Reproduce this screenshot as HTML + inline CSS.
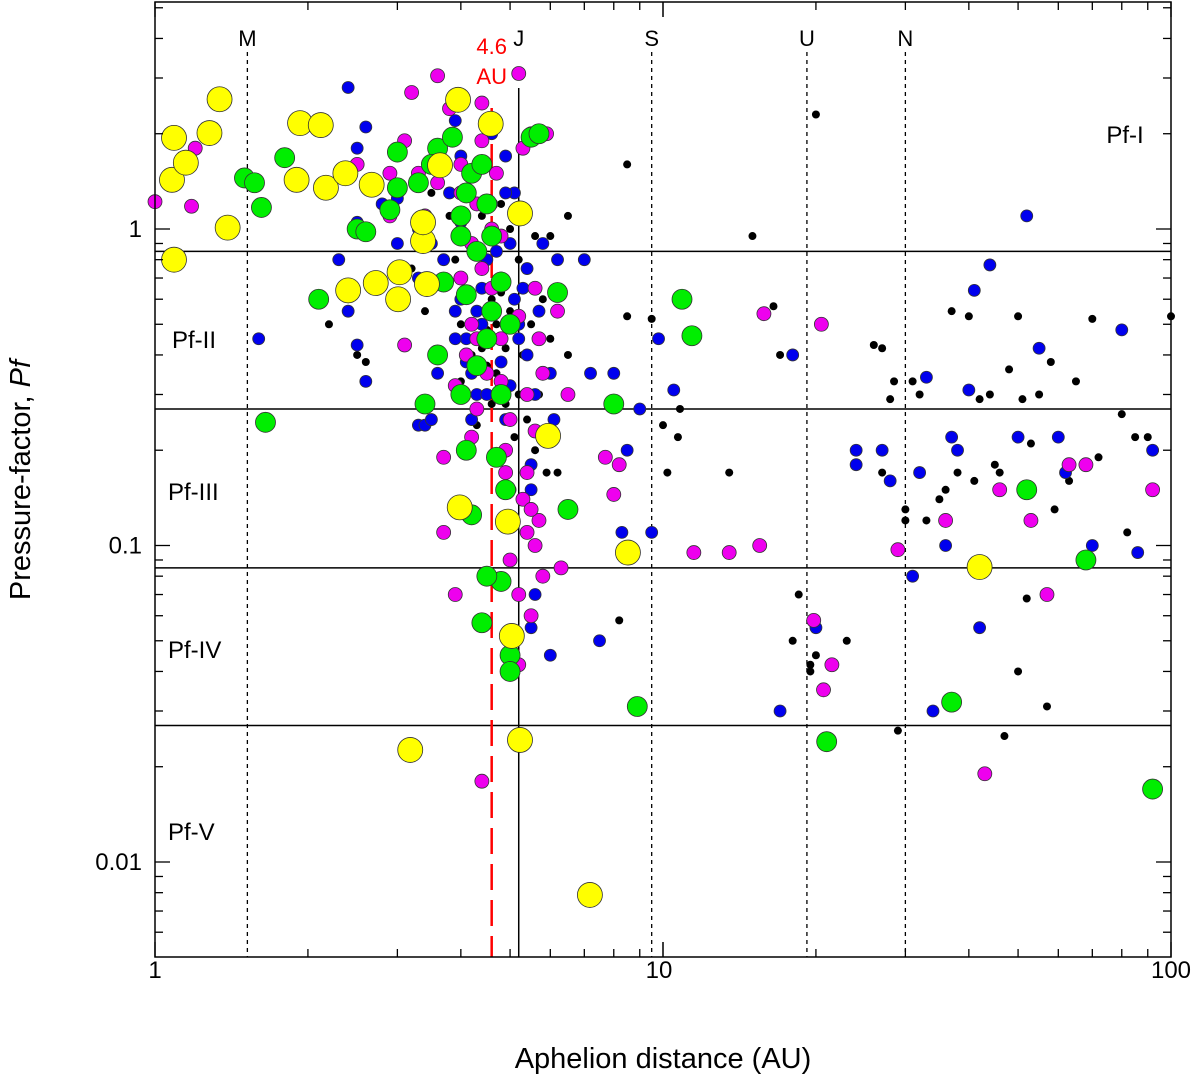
<!DOCTYPE html>
<html><head><meta charset="utf-8"><style>
html,body{margin:0;padding:0;background:#fff}
svg{display:block;font-family:"Liberation Sans",Arial,sans-serif}
</style></head><body>
<svg id="chart" width="1200" height="1087" viewBox="0 0 1200 1087">
<g id="grid"></g><g id="pts"></g><g id="axes"></g>
</svg>
<script>
const yellowA=[1.09,1.08,1.28,1.34,1.15,1.39,1.09,1.93,2.12,1.90,2.17,2.37,2.67,3.03,2.40,2.72,3.43,3.37,3.37,3.95,4.58,5.23,3.01,3.98,4.95,5.94,8.53,42,5.23,3.18,7.18,5.04,3.64];
const yellowP=[1.94,1.43,2.01,2.57,1.62,1.01,0.80,2.16,2.13,1.43,1.35,1.50,1.38,0.73,0.64,0.675,0.67,0.916,1.05,2.56,2.15,1.12,0.60,0.132,0.119,0.222,0.095,0.0855,0.0243,0.0226,0.00787,0.0518,1.59];
const greenA=[1.5,1.57,1.62,1.8,2.1,1.65,2.5,2.6,2.9,3.0,3.0,3.3,3.6,3.85,4.2,4.4,4.0,4.0,4.3,4.6,4.5,3.4,3.6,4.0,4.1,4.2,4.7,4.9,4.8,4.5,4.4,5.0,5.0,4.8,4.8,5.5,5.7,6.2,6.5,8.0,8.9,10.9,11.4,21,37,52,68,92,4.1,4.5,4.3,3.7,4.6,5.0,4.1,3.5];
const greenP=[1.45,1.4,1.17,1.68,0.6,0.245,1.0,0.98,1.15,1.35,1.75,1.4,1.8,1.95,1.5,1.6,1.1,0.95,0.85,0.95,1.2,0.28,0.4,0.3,0.2,0.125,0.19,0.15,0.077,0.08,0.057,0.045,0.04,0.3,0.68,1.95,2.0,0.63,0.13,0.28,0.031,0.6,0.46,0.024,0.032,0.15,0.09,0.017,0.62,0.45,0.37,0.68,0.55,0.5,1.3,1.6];
const magA=[1.0,1.18,1.2,3.6,5.2,3.2,3.8,4.4,2.5,2.9,3.1,3.5,4.4,4.7,5.5,5.9,5.3,4.0,3.4,4.0,4.1,4.2,4.5,4.3,3.1,3.7,3.9,4.9,5.0,5.6,5.4,5.3,5.7,5.6,6.3,5.0,5.2,5.5,5.2,4.4,6.2,5.7,5.8,6.5,7.7,8.2,8.0,11.5,13.5,15.5,15.8,20.5,19.8,20.7,21.5,29,36,43,46,53,57,63,68,92,3.7,4.6,4.8,5.2,3.6,4.0,4.3,4.6,4.8,4.2,4.4,4.6,4.3,4.1,4.8,5.4,5.6,5.8,5.5,5.8,5.4,4.9,3.9,4.2,2.9,3.3];
const magP=[1.22,1.18,1.8,3.05,3.1,2.7,2.4,2.5,1.6,1.5,1.9,1.6,1.9,1.5,2.0,2.0,1.8,1.3,1.1,0.7,0.62,0.5,0.35,0.27,0.43,0.19,0.07,0.2,0.25,0.23,0.17,0.14,0.12,0.1,0.085,0.09,0.07,0.06,0.042,0.018,0.55,0.45,0.35,0.3,0.19,0.18,0.145,0.095,0.095,0.1,0.54,0.5,0.058,0.035,0.042,0.097,0.12,0.019,0.15,0.12,0.07,0.18,0.18,0.15,0.11,0.65,0.33,0.53,1.4,1.6,1.2,1.0,0.95,0.9,0.75,0.55,0.45,0.4,0.45,0.3,0.65,0.22,0.13,0.08,0.11,0.17,0.32,0.22,1.1,1.5];
const blueA=[2.4,1.6,2.5,2.3,2.5,2.6,2.4,3.0,3.3,3.4,3.5,3.8,4.0,4.1,4.2,4.4,4.6,4.8,5.0,5.2,5.4,5.6,5.8,6.0,5.5,5.6,5.5,6.0,6.2,7.0,7.2,8.0,8.3,9.0,9.5,9.8,10.5,7.5,8.5,17,18,20,24,24,27,28,31,32,33,34,36,37,38,40,41,42,44,50,52,52,55,60,62,70,80,86,92,4.5,4.3,3.9,4.9,5.1,4.7,4.9,5.3,3.6,3.0,2.7,3.3,6.1,3.9,4.0,3.9,4.1,4.3,4.6,4.8,5.0,4.4,4.7,5.1,5.4,3.7,3.5,4.0,4.6,4.9,5.3,5.0,5.5,5.2,4.5,3.6,3.3,2.8,2.5,2.6,4.2,5.7];
const blueP=[2.8,0.45,1.05,0.8,0.43,0.33,0.55,0.9,0.24,0.24,0.25,1.3,0.6,0.45,0.35,0.5,1.2,0.7,0.9,0.5,0.4,0.3,0.9,0.35,0.15,0.07,0.055,0.045,0.8,0.8,0.35,0.35,0.11,0.27,0.11,0.45,0.31,0.05,0.2,0.03,0.4,0.055,0.2,0.18,0.2,0.16,0.08,0.17,0.34,0.03,0.1,0.22,0.2,0.31,0.64,0.055,0.77,0.22,1.1,0.15,0.42,0.22,0.17,0.1,0.48,0.095,0.2,0.8,0.3,0.55,0.25,0.6,1.5,1.7,1.1,1.8,1.25,1.4,0.7,0.25,2.2,1.05,0.45,0.38,0.55,0.45,0.38,0.32,0.65,0.85,1.3,0.75,0.8,0.9,1.7,2.0,1.3,0.65,0.15,0.18,0.45,0.3,0.35,1.0,1.2,1.8,2.1,0.25,0.55];
const blackA=[15,20,8.5,6.5,6.0,8.5,9.5,10,10.7,10.8,10.2,8.2,13.5,16.5,17,18.5,18,19.5,19.5,20,21,23,26,27,27,28,28.5,30,30,31,32,33,35,36,37,38,40,41,42,44,45,46,47,48,50,50,51,52,53,55,57,58,59,63,65,70,72,80,82,85,90,100,93,29,2.6,2.7,3.2,3.5,3.8,4.0,4.2,4.4,4.5,4.7,4.9,5.0,5.2,5.4,5.6,5.9,6.2,5.5,5.0,4.8,4.6,4.3,4.1,5.8,6.5,2.2,2.4,2.5,4.1,4.3,4.6,4.7,4.9,5.1,5.3,5.7,6.1,3.7,3.9,4.2,4.4,5.2,5.6,6.0,4.0,4.5,4.8,3.4];
const blackP=[0.95,2.3,1.6,1.1,0.95,0.53,0.52,0.24,0.22,0.27,0.17,0.058,0.17,0.57,0.4,0.07,0.05,0.04,0.042,0.045,0.035,0.05,0.43,0.42,0.17,0.29,0.33,0.13,0.12,0.33,0.3,0.12,0.14,0.15,0.55,0.17,0.53,0.16,0.29,0.3,0.18,0.17,0.025,0.36,0.53,0.04,0.29,0.068,0.21,0.3,0.031,0.38,0.13,0.16,0.33,0.52,0.19,0.26,0.11,0.22,0.22,0.53,0.2,0.026,0.38,0.7,0.75,1.3,1.1,0.5,0.4,0.42,0.37,0.5,0.42,0.55,0.3,0.25,0.2,0.17,0.17,0.5,1.0,1.2,0.28,0.24,0.2,0.6,0.4,0.5,0.6,0.4,0.6,0.3,0.6,0.35,0.28,0.22,0.4,0.3,0.25,0.65,0.8,0.9,1.1,0.8,0.95,0.45,0.33,0.48,0.63,0.55];
const classBounds=[0.85,0.27,0.085,0.027];
const planetA=[1.52,5.2,9.5,19.2,30];
const planetLbl=["M","J","S","U","N"];
const xTicks=[1,10,100], xTickLbl=["1","10","100"];
const yTicks=[1,0.1,0.01], yTickLbl=["1","0.1","0.01"];

const L=155,R=1171,T=2,B=957;
const X=a=>L+508*Math.log10(a);
const Y=p=>229-316.5*Math.log10(p);
const NS="http://www.w3.org/2000/svg";
function mk(tag,attrs,parent,text){const e=document.createElementNS(NS,tag);for(const k in attrs)e.setAttribute(k,attrs[k]);if(text!==undefined)e.textContent=text;parent.appendChild(e);return e;}
const grid=document.getElementById('grid'),pts=document.getElementById('pts'),axes=document.getElementById('axes');

classBounds.forEach((b,i)=>{const l=mk('line',{x1:L,x2:R,y1:Y(b),y2:Y(b),stroke:'#000','stroke-width':1.5},grid);

});
planetA.forEach((a,i)=>{const solid=planetLbl[i]==="J";
const l=mk('line',{x1:X(a),x2:X(a),y1:solid?88:52,y2:B,stroke:'#000','stroke-width':solid?1.5:1.3,'stroke-dasharray':solid?'':'4,4'},grid);


const t=mk('text',{x:X(a),y:46,'font-size':22,'text-anchor':'middle'},grid,planetLbl[i]);

});
const rl=mk('line',{x1:X(4.6),x2:X(4.6),y1:108,y2:B,stroke:'#f00','stroke-width':2.5,'stroke-dasharray':'26,10'},grid);


[["4.6",54],["AU",84]].forEach(([s,y])=>{const t=mk('text',{x:X(4.6),y:y,'font-size':22,fill:'#f00','text-anchor':'middle'},grid,s);

});

function series(A,P,r,fill,name){A.forEach((a,i)=>{const c=mk('circle',{cx:X(a),cy:Y(P[i]),r:r,fill:fill,stroke:fill==='#000'?'none':'#333','stroke-width':0.8},pts);

});}
series(blackA,blackP,4,'#000','black');
series(blueA,blueP,6,'#0000ee','blue');
series(magA,magP,7,'#ee00ee','magenta');
series(greenA,greenP,10,'#00ee00','green');
series(yellowA,yellowP,12.5,'#ffff00','yellow');

const fr=mk('rect',{x:L,y:T,width:R-L,height:B-T,fill:'none',stroke:'#000','stroke-width':1.5},axes);


for(let d=0;d<2;d++)for(let m=1;m<=10;m++){const a=Math.pow(10,d)*m;const x=X(a);const len=m===1||m===10?15:8;
mk('line',{x1:x,x2:x,y1:B,y2:B-len,stroke:'#000','stroke-width':1.3},axes);mk('line',{x1:x,x2:x,y1:T,y2:T+len,stroke:'#000','stroke-width':1.3},axes);}
for(let d=-3;d<1;d++)for(let m=1;m<10;m++){const p=Math.pow(10,d)*m;const y=Y(p);if(y<T||y>B)continue;const len=m===1?15:8;
mk('line',{x1:L,x2:L+len,y1:y,y2:y,stroke:'#000','stroke-width':1.3},axes);mk('line',{x1:R,x2:R-len,y1:y,y2:y,stroke:'#000','stroke-width':1.3},axes);}
xTicks.forEach((v,i)=>{const t=mk('text',{x:X(v)-(i===1?4:0),y:978,'font-size':24,'text-anchor':'middle'},axes,xTickLbl[i]);

});
yTicks.forEach((v,i)=>{const t=mk('text',{x:142,y:Y(v)+8,'font-size':24,'text-anchor':'end'},axes,yTickLbl[i]);

});
const xt=mk('text',{x:663,y:1068,'font-size':29,'text-anchor':'middle'},axes,'Aphelion distance (AU)');


const yt=mk('text',{x:0,y:0,'font-size':29,'text-anchor':'middle',transform:'translate(30,480) rotate(-90)'},axes);


yt.appendChild(document.createTextNode('Pressure-factor, '));
mk('tspan',{'font-style':'italic'},yt,'Pf');
[["Pf-I",1125,143,'middle'],["Pf-II",172,348,'start'],["Pf-III",168,500,'start'],["Pf-IV",168,658,'start'],["Pf-V",168,840,'start']].forEach(([s,x,y,an])=>{
const t=mk('text',{x:x,y:y,'font-size':24,'text-anchor':an},axes,s);

});
</script>
</body></html>
